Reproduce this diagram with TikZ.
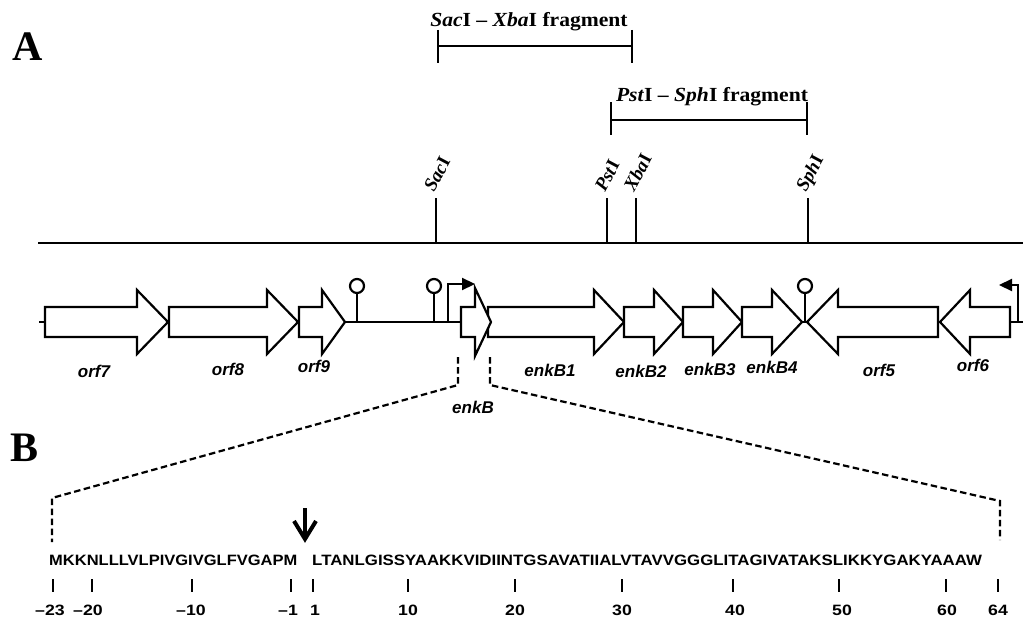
\documentclass[tikz,border=0pt]{standalone}
\usepackage{fontspec}
\setmainfont{Liberation Serif}
\setsansfont{Liberation Sans}
\usetikzlibrary{arrows.meta}
\tikzset{
  ln/.style={line width=2.2pt},
  gene/.style={draw, line width=2.2pt, fill=white, line join=miter},
  glabel/.style={font=\sffamily\bfseries\itshape\fontsize{17}{17}\selectfont, anchor=base, inner sep=0pt},
  panel/.style={font=\bfseries\fontsize{42}{42}\selectfont, anchor=base west, inner sep=0pt},
  frag/.style={font=\bfseries\fontsize{20}{20}\selectfont, anchor=base, inner sep=0pt, xscale=1.08},
  site/.style={font=\bfseries\fontsize{19}{19}\selectfont, anchor=base west, inner sep=0pt, rotate=62},
  seq/.style={font=\sffamily\bfseries\fontsize{15}{15}\selectfont, anchor=base west, inner sep=0pt},
  num/.style={font=\sffamily\bfseries\fontsize{15}{15}\selectfont, anchor=base, inner sep=0pt, xscale=1.18},
  dash line/.style={line width=2.2pt, dash pattern=on 6.5pt off 3.5pt},
  tick/.style={line width=2.5pt},
  prom/.style={line width=2.2pt, -{Triangle[length=13pt,width=12pt]}},
}
\newcommand\geneR[4][32]{\draw[gene] (#2,307) -- (#3,307) -- (#3,322-#1) -- (#4,322) -- (#3,322+#1) -- (#3,337) -- (#2,337) -- cycle;}
\newcommand\geneL[3]{\draw[gene] (#3,307) -- (#2,307) -- (#2,290) -- (#1,322) -- (#2,354) -- (#2,337) -- (#3,337) -- cycle;}
\newcommand\termin[1]{\draw[ln] (#1,322) -- (#1,293); \draw[ln, fill=white] (#1,286) circle[radius=7pt];}
\begin{document}
\begin{tikzpicture}[x=1pt,y=-1pt]
\useasboundingbox (0,0) rectangle (1023,618);
% panel letters
\node[panel] (pA) at (12,60) {A};
\node[panel] (pB) at (10,461) {B};
% fragments
\draw[ln] (438,30) -- (438,63) (438,46) -- (632,46) (632,30) -- (632,63);
\node[frag] (f1) at (529,27) {\textit{Sac}I -- \textit{Xba}I fragment};
\draw[ln] (611,102) -- (611,135) (611,120) -- (807,120) (807,102) -- (807,135);
\node[frag] (f2) at (712,101) {\textit{Pst}I -- \textit{Sph}I fragment};
% restriction map
\draw[ln] (38,243) -- (1023,243);
\foreach \x in {436,607,636,808} {\draw[ln] (\x,198) -- (\x,243);}
\node[site] (sac) at (434,193) {\textit{Sac}I};
\node[site] (pst) at (605,193) {\textit{Pst}I};
\node[site] (xba) at (634,193) {\textit{Xba}I};
\node[site] (sph) at (806,193) {\textit{Sph}I};
% gene backbone
\draw[ln] (39,322) -- (46,322);
\draw[ln] (345,322) -- (462,322);
\draw[ln] (800,322) -- (809,322);
\draw[ln] (1008,322) -- (1023,322);
% terminators and promoters
\termin{357}
\termin{434}
\termin{805}
\draw[prom] (448,322) -- (448,284) -- (475,284);
\draw[prom] (1018,322) -- (1018,285) -- (999,285);
% genes
\geneR{45}{137}{168}
\geneR{169}{267}{298}
\geneR{299}{322}{345}
\geneR{488}{594}{624}
\geneR[34]{461}{475}{491}
\geneR{624}{654}{683}
\geneR{683}{713}{742}
\geneR{742}{772}{802}
\geneL{807}{838}{938}
\geneL{940}{970}{1010}
% gene labels
\node[glabel] (l7) at (94,377) {orf7};
\node[glabel] (l8) at (228,375) {orf8};
\node[glabel] (l9) at (314,372) {orf9};
\node[glabel] (lB) at (473,413) {enkB};
\node[glabel] (lB1) at (550,376) {enkB1};
\node[glabel] (lB2) at (641,377) {enkB2};
\node[glabel] (lB3) at (710,375) {enkB3};
\node[glabel] (lB4) at (772,373) {enkB4};
\node[glabel] (l5) at (879,376) {orf5};
\node[glabel] (l6) at (973,371) {orf6};
% zoom lines
\coordinate (zl1) at (458,357);
\coordinate (zl2) at (458,385);
\coordinate (zl3) at (52,498);
\coordinate (zl4) at (52,542);
\coordinate (zr1) at (490,357);
\coordinate (zr2) at (490,385);
\coordinate (zr3) at (1000,501);
\coordinate (zr4) at (1000,540);
\draw[dash line] (zl1) -- (zl2) -- (zl3) -- (zl4);
\draw[dash line] (zr1) -- (zr2) -- (zr3) -- (zr4);
% cleavage arrow
\draw[line width=4pt] (305,508) -- (305,536);
\draw[line width=4pt, line join=miter, miter limit=3] (294,521) -- (305,539) -- (316,521);
% sequence
\node[seq, xscale=1.1] (s1) at (49,565) {MKKNLLLVLPIVGIVGLFVGAPM};
\node[seq, xscale=1.123] (s2) at (312,565) {LTANLGISSYAAKKVIDIINTGSAVATIIALVTAVVGGGLITAGIVATAKSLIKKYGAKYAAAW};
% ticks and numbers
\foreach \x in {53,92,192,291,313,408,515,622,733,839,946,998} {\draw[tick] (\x,579) -- (\x,592);}
\node[num] (n1) at (50,615) {--23};
\node[num] (n2) at (88,615) {--20};
\node[num] (n3) at (191,615) {--10};
\node[num] (n4) at (288,615) {--1};
\node[num] (n5) at (315,615) {1};
\node[num] (n6) at (408,615) {10};
\node[num] (n7) at (515,615) {20};
\node[num] (n8) at (622,615) {30};
\node[num] (n9) at (735,615) {40};
\node[num] (n10) at (842,615) {50};
\node[num] (n11) at (947,615) {60};
\node[num] (n12) at (998,615) {64};
\end{tikzpicture}
\end{document}
